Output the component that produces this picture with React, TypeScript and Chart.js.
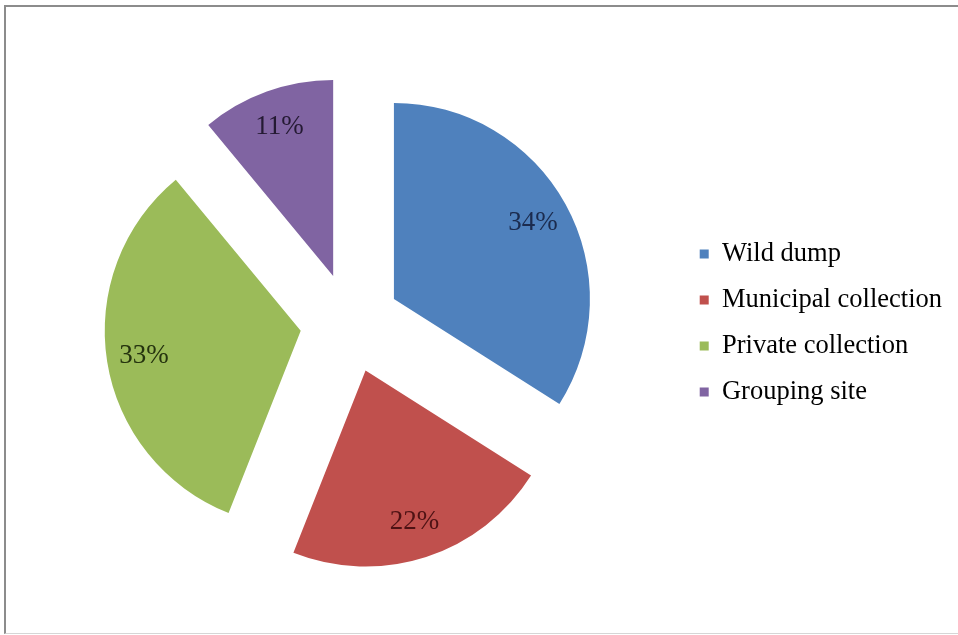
import React, { useEffect, useRef } from "react";
import { Chart, registerables } from "chart.js";

Chart.register(...registerables);

const categories = ["Wild dump", "Municipal collection", "Private collection", "Grouping site"];
const shares = [34, 22, 33, 11];
const sliceColors = ["#4F81BD", "#C0504D", "#9BBB59", "#8064A2"];
const labelColors = ["#1B2B4E", "#4E1214", "#25330F", "#241A33"];

const EXPLODE = 50;

// Draw each arc element pulled out along its mid-angle (uniform radius, like Excel's exploded pie)
const explodedPie = {
  id: "explodedPie",
  beforeDatasetDraw(chart: any, args: any) {
    const ctx = chart.ctx;
    const area = chart.chartArea;
    args.meta.data.forEach((arc: any) => {
      const p = arc.getProps(["startAngle", "endAngle"], true);
      const mid = (p.startAngle + p.endAngle) / 2;
      ctx.save();
      ctx.translate(Math.cos(mid) * EXPLODE, Math.sin(mid) * EXPLODE);
      arc.draw(ctx, area);
      ctx.restore();
    });
    return false;
  },
  afterDatasetsDraw(chart: any) {
    const ctx = chart.ctx;
    const meta = chart.getDatasetMeta(0);
    ctx.save();
    ctx.font = "27px 'Liberation Serif', 'Times New Roman', serif";
    ctx.textAlign = "center";
    ctx.textBaseline = "middle";
    meta.data.forEach((arc: any, i: number) => {
      const p = arc.getProps(["x", "y", "startAngle", "endAngle", "outerRadius"], true);
      const mid = (p.startAngle + p.endAngle) / 2;
      const r = EXPLODE + 0.81 * p.outerRadius;
      ctx.fillStyle = labelColors[i];
      ctx.fillText(shares[i] + "%", p.x + Math.cos(mid) * r, p.y + Math.sin(mid) * r);
    });
    ctx.restore();
  },
};

export default function App() {
  const ref = useRef<HTMLCanvasElement>(null);
  useEffect(() => {
    if (!ref.current) return;
    const chart = new Chart(ref.current, {
      type: "pie",
      data: {
        labels: categories,
        datasets: [
          {
            data: shares,
            backgroundColor: sliceColors,
            borderWidth: 0,
            radius: 196,
          } as any,
        ],
      },
      options: {
        responsive: false,
        animation: false,
        layout: { padding: { left: 20, right: 6, top: 17, bottom: 6 } },
        plugins: {
          tooltip: { enabled: false },
          legend: {
            position: "right",
            labels: {
              boxWidth: 9,
              boxHeight: 9,
              padding: 19.5,
              color: "#000",
              font: { family: "'Liberation Serif', 'Times New Roman', serif", size: 26.5 },
            },
          },
        },
      },
      plugins: [explodedPie],
    });
    return () => chart.destroy();
  }, []);
  return (
    <div style={{ position: "fixed", left: 0, top: 0, width: 958, height: 635, background: "#fff", overflow: "hidden" }}>
      <div
        style={{
          position: "absolute",
          left: 4,
          top: 5,
          width: 980,
          height: 626,
          borderTop: "2px solid #8c8c8c",
          borderLeft: "2px solid #8c8c8c",
          borderBottom: "1px solid #d6d6d6",
        }}
      />
      <canvas ref={ref} width={958} height={635} style={{ position: "absolute", left: 0, top: 0 }} />
    </div>
  );
}
